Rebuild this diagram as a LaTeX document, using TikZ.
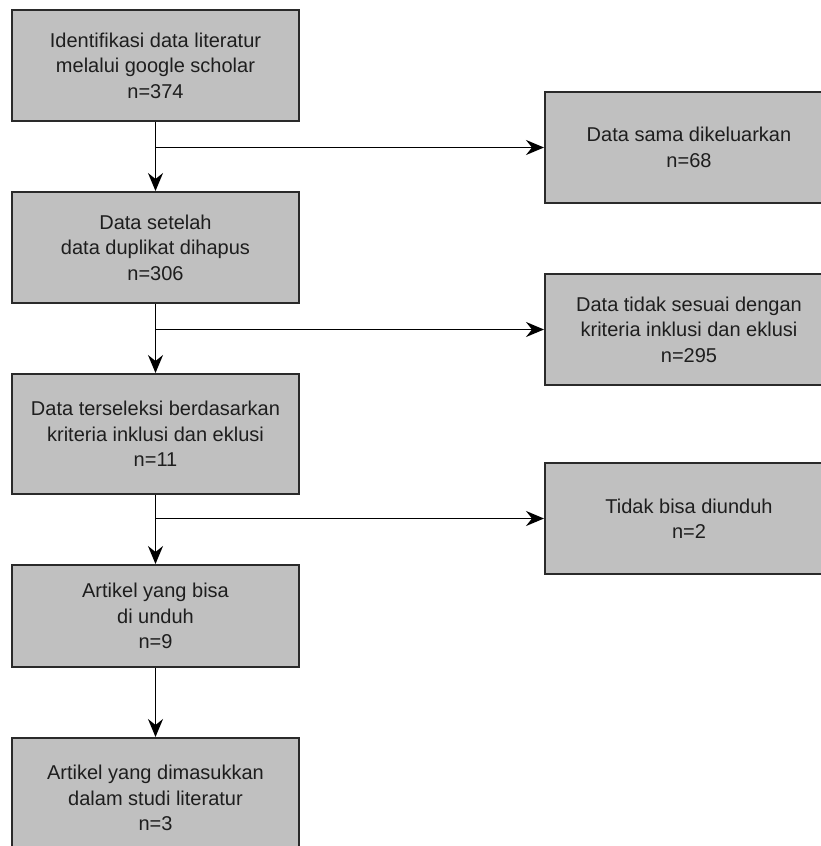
\documentclass[tikz,border=0pt]{standalone}
\usepackage{fontspec}
\setmainfont{Liberation Sans}
\usetikzlibrary{positioning,arrows.meta}
\definecolor{boxgray}{HTML}{C0C0C0}
\definecolor{edgegray}{HTML}{2A2A2A}
\definecolor{textgray}{HTML}{1E1E1E}

\begin{document}
\begin{tikzpicture}[x=1pt, y=1pt, node distance=69pt,
  stage/.style={draw=edgegray, line width=2pt, fill=boxgray, text=textgray, align=center,
    minimum width=287pt, minimum height=111pt, inner sep=0pt, font=\fontsize{20}{25.5}\selectfont},
  flow/.style={-{Stealth[length=18pt,width=15pt,inset=6pt]}, line width=1.8pt, draw=black}]

  \useasboundingbox (0,0) rectangle (821,-846);
  \fill[white] (0,0) rectangle (821,-846);

  % Nodes
  \node (identifikasi) [stage] at (155.5,-65.5) {Identifikasi data literatur\\ melalui google scholar\\ n=374};
  \node (setelah) [stage, below=of identifikasi] {Data setelah\\ data duplikat dihapus\\ n=306};
  \node (terseleksi) [stage, below=of setelah, minimum height=120pt] {Data terseleksi berdasarkan\\ kriteria inklusi dan eklusi\\ n=11};
  \node (bisaunduh) [stage, below=of terseleksi, minimum height=102pt] {Artikel yang bisa\\ di unduh\\ n=9};
  \node (dimasukkan) [stage, below=of bisaunduh, minimum height=120pt] {Artikel yang dimasukkan\\ dalam studi literatur\\ n=3};

  \node (sama) [stage, minimum width=288pt] at (689,-147.5) {Data sama dikeluarkan\\ n=68};
  \node (tidaksesuai) [stage, minimum width=288pt] at (689,-329.5) {Data tidak sesuai dengan\\ kriteria inklusi dan eklusi\\ n=295};
  \node (tidakunduh) [stage, minimum width=288pt] at (689,-518.5) {Tidak bisa diunduh\\ n=2};

  % Arrows
  \draw[flow] (identifikasi) -- (setelah);
  \draw[flow] (setelah) -- (terseleksi);
  \draw[flow] (terseleksi) -- (bisaunduh);
  \draw[flow] (bisaunduh) -- (dimasukkan);
  \draw[flow] (identifikasi.south |- sama.west) -- (sama.west);
  \draw[flow] (setelah.south |- tidaksesuai.west) -- (tidaksesuai.west);
  \draw[flow] (terseleksi.south |- tidakunduh.west) -- (tidakunduh.west);

\end{tikzpicture}
\end{document}
